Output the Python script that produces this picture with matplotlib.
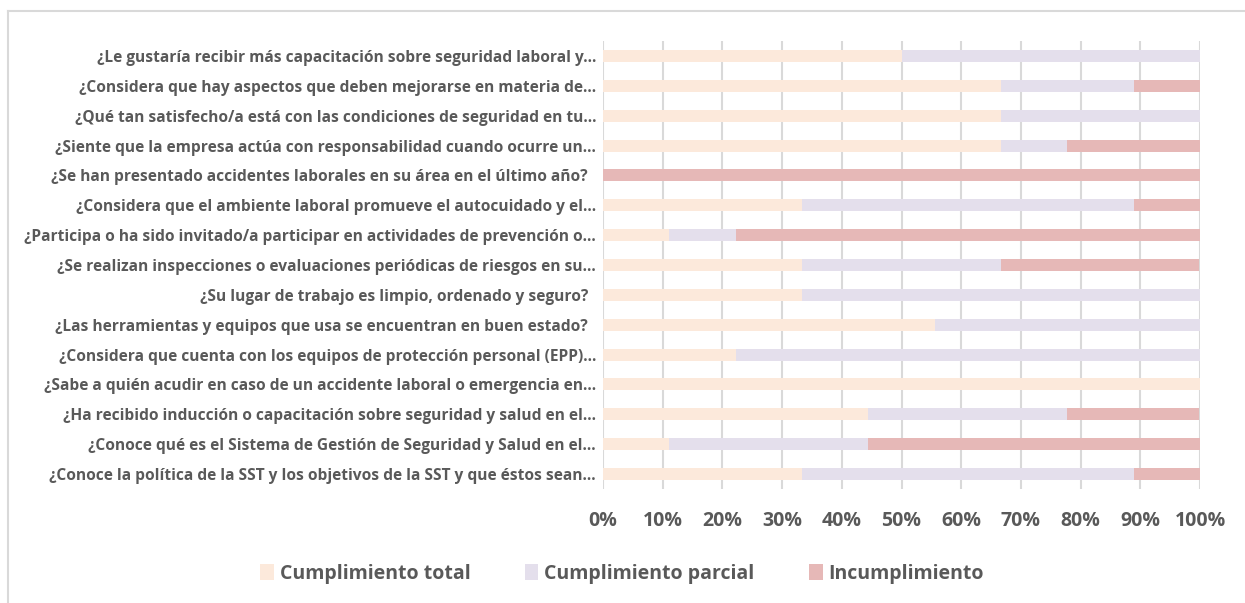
import matplotlib
matplotlib.use("Agg")
import matplotlib.pyplot as plt
from matplotlib.lines import Line2D

categories = [
    "¿Le gustaría recibir más capacitación sobre seguridad laboral y...",
    "¿Considera que hay aspectos que deben mejorarse en materia de...",
    "¿Qué tan satisfecho/a está con las condiciones de seguridad en tu...",
    "¿Siente que la empresa actúa con responsabilidad cuando ocurre un...",
    "¿Se han presentado accidentes laborales en su área en el último año?  ",
    "¿Considera que el ambiente laboral promueve el autocuidado y el...",
    "¿Participa o ha sido invitado/a participar en actividades de prevención o...",
    "¿Se realizan inspecciones o evaluaciones periódicas de riesgos en su...",
    "¿Su lugar de trabajo es limpio, ordenado y seguro?  ",
    "¿Las herramientas y equipos que usa se encuentran en buen estado?  ",
    "¿Considera que cuenta con los equipos de protección personal (EPP)...",
    "¿Sabe a quién acudir en caso de un accidente laboral o emergencia en...",
    "¿Ha recibido inducción o capacitación sobre seguridad y salud en el...",
    "¿Conoce qué es el Sistema de Gestión de Seguridad y Salud en el...",
    "¿Conoce la política de la SST y los objetivos de la SST y que éstos sean...",
]
total = [50.0, 66.7, 66.7, 66.7, 0.0, 33.3, 11.1, 33.3, 33.3, 55.6, 22.2, 100.0, 44.4, 11.1, 33.3]
parcial = [50.0, 22.2, 33.3, 11.1, 0.0, 55.6, 11.1, 33.3, 66.7, 44.4, 77.8, 0.0, 33.3, 33.3, 55.6]
incumpl = [0.0, 11.1, 0.0, 22.2, 100.0, 11.1, 77.8, 33.3, 0.0, 0.0, 0.0, 0.0, 22.2, 55.6, 11.1]
series_names = ["Cumplimiento total", "Cumplimiento parcial", "Incumplimiento"]
tick_vals = [0, 10, 20, 30, 40, 50, 60, 70, 80, 90, 100]

colors = ["#FCE9DB", "#E4DFEC", "#E6B8B7"]
text_color = "#595959"

plt.rcParams["font.family"] = ["Open Sans", "DejaVu Sans"]

fig = plt.figure(figsize=(12.45, 6.03), dpi=100)
ax = fig.add_axes([603 / 1245, 1 - 489 / 603, 597 / 1245, 448 / 603])

y = list(range(len(categories)))[::-1]
left = [0.0] * len(categories)
for vals, c, name in zip([total, parcial, incumpl], colors, series_names):
    ax.barh(y, vals, left=left, height=0.4, color=c, label=name, zorder=2)
    left = [l + v for l, v in zip(left, vals)]

ax.set_xlim(0, 100)
ax.set_ylim(-0.5, len(categories) - 0.5)
ax.set_yticks(y)
ax.set_yticklabels(categories, fontsize=11.2, fontweight="bold", color=text_color)
ax.set_xticks(tick_vals)
ax.set_xticklabels([f"{v}%" for v in tick_vals], fontsize=14, fontweight="bold", color=text_color)
ax.tick_params(axis="both", length=0)
ax.tick_params(axis="x", pad=16)
ax.tick_params(axis="y", pad=5)
ax.grid(axis="x", color="#D9D9D9", linewidth=1.5, zorder=0)
for s in ax.spines.values():
    s.set_visible(False)

leg = fig.legend(loc="center", bbox_to_anchor=(622 / 1245, 1 - 574 / 603), ncol=3, frameon=False,
                 handlelength=0.7, handleheight=0.9, handletextpad=0.3, columnspacing=2.8,
                 prop={"weight": "bold", "size": 14})
for t in leg.get_texts():
    t.set_color(text_color)

# chart border (left and top)
fig.add_artist(Line2D([8 / 1245, 8 / 1245], [0, 1 - 11 / 603], color="#D9D9D9", linewidth=1.5, transform=fig.transFigure))
fig.add_artist(Line2D([8 / 1245, 1], [1 - 11 / 603, 1 - 11 / 603], color="#D9D9D9", linewidth=1.5, transform=fig.transFigure))

fig.savefig("out.png", dpi=100, facecolor="white")
